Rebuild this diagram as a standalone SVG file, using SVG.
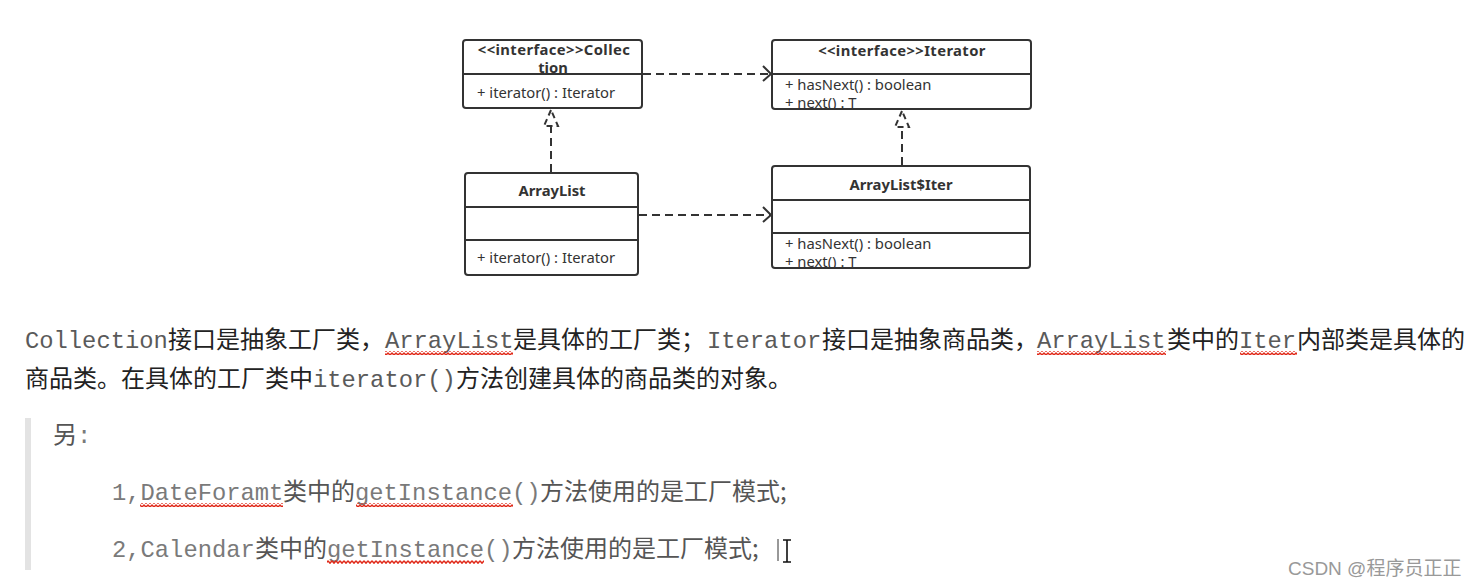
<svg xmlns="http://www.w3.org/2000/svg" width="1474" height="587" viewBox="0 0 1474 587">
<style>
.box{fill:#fff;stroke:#333;stroke-width:2}
.div{stroke:#333;stroke-width:2}
.t{font-family:"Noto Sans","Open Sans",sans-serif;font-size:14.8px;fill:#333}
.tb{font-family:"Noto Sans","Open Sans",sans-serif;font-size:14.8px;font-weight:bold;fill:#333;text-anchor:middle}
.dash{fill:none;stroke:#333;stroke-width:2;stroke-dasharray:8 5}
.head{fill:none;stroke:#333;stroke-width:2}
.m{font-family:"Liberation Mono","Courier New",monospace;font-size:23.8px;fill:#5a5a5a}
.c{font-family:"Noto Sans CJK SC","Noto Sans CJK JP",sans-serif;font-size:24px;fill:#222}
.qm{font-family:"Liberation Mono","Courier New",monospace;font-size:23.8px;fill:#7a7a7a}
.qc{font-family:"Noto Sans CJK SC","Noto Sans CJK JP",sans-serif;font-size:24px;fill:#555}
.wave{fill:url(#zig)}
</style>
<defs>
<pattern id="zig" patternUnits="userSpaceOnUse" width="4" height="4">
<path d="M0,0.8 L2,3.2 L4,0.8" fill="none" stroke="#e02818" stroke-width="1.4"/>
</pattern>
<clipPath id="clipIt"><rect x="772" y="75" width="259" height="33"/></clipPath>
<clipPath id="clipIter"><rect x="772" y="234" width="258" height="33"/></clipPath>
</defs>
<rect width="1474" height="587" fill="#fff"/>

<g id="connectors">
<line class="dash" x1="643" y1="74" x2="770" y2="74"/>
<polyline class="head" points="763,66 771,74 763,81"/>
<line class="dash" x1="639" y1="215" x2="770" y2="215"/>
<polyline class="head" points="763,207 771,215 763,222"/>
<line class="dash" x1="551" y1="172" x2="551" y2="127"/>
<path d="M551,110 L544,126 L558,126 Z" fill="#fff" stroke="#333" stroke-width="2" stroke-dasharray="6 4"/>
<line class="dash" x1="902" y1="165" x2="902" y2="127"/>
<path d="M902,111 L895,127 L909,127 Z" fill="#fff" stroke="#333" stroke-width="2" stroke-dasharray="6 4"/>
</g>

<g id="collection">
<rect class="box" x="463" y="40" width="179" height="68" rx="3"/>
<text class="tb" x="554" y="55" letter-spacing="0.4">&lt;&lt;interface&gt;&gt;Collec</text>
<text class="tb" x="553" y="73">tion</text>
<line class="div" x1="463" y1="74" x2="642" y2="74"/>
<text class="t" x="477" y="98">+ iterator() : Iterator</text>
</g>

<g id="iterator">
<rect class="box" x="772" y="40" width="259" height="69" rx="3"/>
<text class="tb" x="902" y="56" letter-spacing="0.4">&lt;&lt;interface&gt;&gt;Iterator</text>
<line class="div" x1="772" y1="74" x2="1031" y2="74"/>
<g clip-path="url(#clipIt)">
<text class="t" x="785" y="90">+ hasNext() : boolean</text>
<text class="t" x="785" y="108">+ next() : T</text>
</g>
</g>

<g id="arraylist">
<rect class="box" x="465" y="173" width="173" height="102" rx="3"/>
<text class="tb" x="552" y="196">ArrayList</text>
<line class="div" x1="465" y1="207" x2="638" y2="207"/>
<line class="div" x1="465" y1="240" x2="638" y2="240"/>
<text class="t" x="477" y="263">+ iterator() : Iterator</text>
</g>

<g id="arraylist-iter">
<rect class="box" x="772" y="166" width="258" height="102" rx="3"/>
<text class="tb" x="901" y="190">ArrayList$Iter</text>
<line class="div" x1="772" y1="200" x2="1030" y2="200"/>
<line class="div" x1="772" y1="233" x2="1030" y2="233"/>
<g clip-path="url(#clipIter)">
<text class="t" x="785" y="249">+ hasNext() : boolean</text>
<text class="t" x="785" y="267">+ next() : T</text>
</g>
</g>

<g id="paragraph">
<text class="m" x="25" y="348">Collection</text>
<text class="c" x="168" y="348">接口是抽象工厂类，</text>
<text class="m" x="385" y="348">ArrayList</text>
<text class="c" x="513" y="348">是具体的工厂类；</text>
<text class="m" x="707" y="348">Iterator</text>
<text class="c" x="822" y="348">接口是抽象商品类，</text>
<text class="m" x="1037" y="348">ArrayList</text>
<text class="c" x="1167" y="348">类中的</text>
<text class="m" x="1239" y="348">Iter</text>
<text class="c" x="1297" y="348">内部类是具体的</text>
<text class="c" x="25" y="387">商品类。在具体的工厂类中</text>
<text class="m" x="313" y="387">iterator()</text>
<text class="c" x="456" y="387">方法创建具体的商品类的对象。</text>
<rect class="wave" x="385" y="351" width="128" height="4"/>
<rect class="wave" x="1037" y="351" width="129" height="4"/>
<rect class="wave" x="1240" y="351" width="57" height="4"/>
</g>

<g id="quote">
<rect x="25" y="418" width="6" height="152" fill="#e3e3e3"/>
<text x="53" y="443"><tspan class="qc">另</tspan><tspan class="qm">:</tspan></text>
<text class="qm" x="112" y="500">1,DateForamt</text>
<text class="qc" x="283" y="500">类中的</text>
<text class="qm" x="355" y="500">getInstance()</text>
<text class="qc" x="540" y="500">方法使用的是工厂模式;</text>
<text class="qm" x="112" y="557">2,Calendar</text>
<text class="qc" x="255" y="557">类中的</text>
<text class="qm" x="327" y="557">getInstance()</text>
<text class="qc" x="512" y="557">方法使用的是工厂模式;</text>
<rect class="wave" x="140" y="503" width="143" height="4"/>
<rect class="wave" x="356" y="503" width="157" height="4"/>
<rect class="wave" x="327" y="560" width="157" height="4"/>
<line x1="778" y1="539" x2="778" y2="561" stroke="#333" stroke-width="1"/>
<path d="M783,540 H791 M787,540 V562 M783,562 H791" stroke="#fff" stroke-width="3.5" fill="none"/>
<path d="M783,540 H791 M787,540 V562 M783,562 H791" stroke="#111" stroke-width="1.6" fill="none"/>
</g>

<g id="watermark">
<text x="1288" y="575" font-family="Liberation Sans,Noto Sans CJK SC,sans-serif" font-size="19" fill="#999">CSDN @程序员正正</text>
</g>
</svg>
